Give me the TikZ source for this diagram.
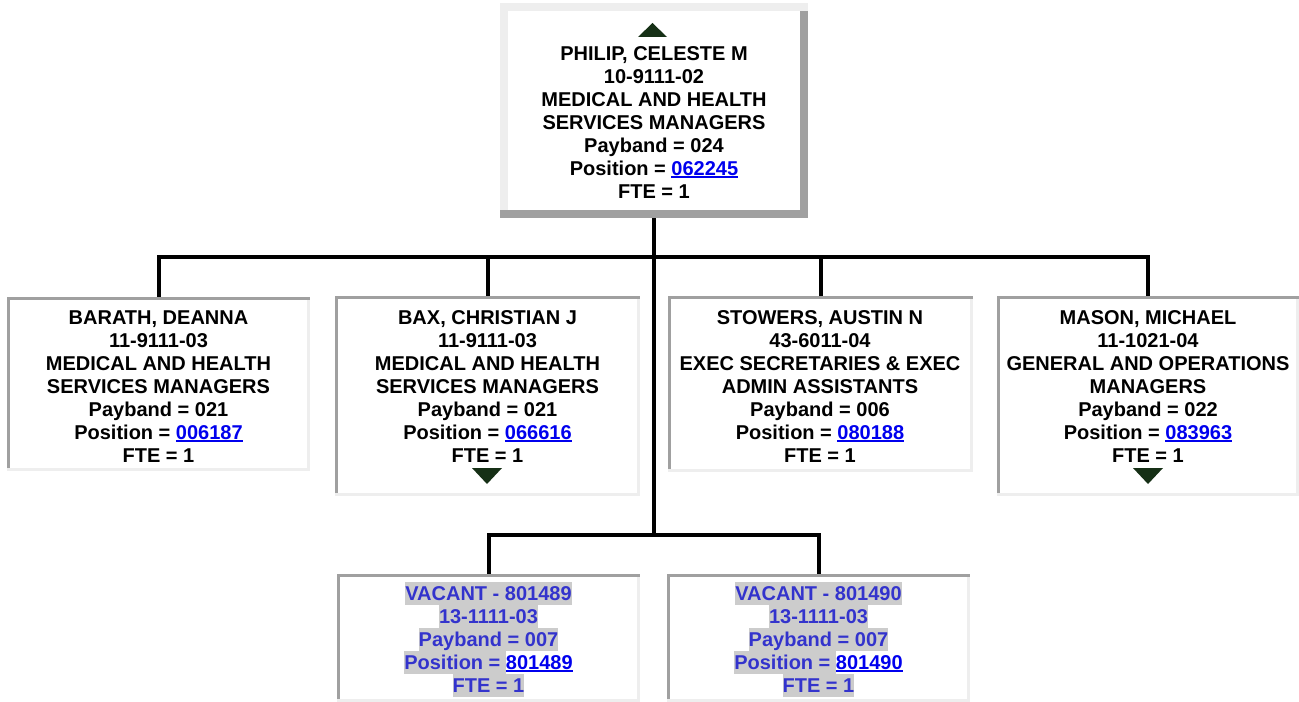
\documentclass[tikz,border=0pt]{standalone}
\usepackage{fontspec}
\setmainfont{Liberation Sans}
\usetikzlibrary{fit,calc}
\definecolor{bdark}{HTML}{A0A0A0}
\definecolor{blight}{HTML}{EEEEEE}
\definecolor{linkblue}{HTML}{0000EE}
\definecolor{vactext}{HTML}{3333CC}
\definecolor{vacbg}{HTML}{CCCCCC}
\definecolor{arrowgreen}{HTML}{163016}
\newcommand\lstrut{\rule[-3.75pt]{0pt}{17.25pt}}
\newcommand\lnk[1]{{\color{linkblue}\setbox0\hbox{#1}\rlap{\rule[-1.9pt]{\wd0}{1.4pt}}\box0}}
\newcommand\vl[1]{{\fboxsep=0pt\colorbox{vacbg}{\lstrut #1}}}
\newcommand\insetframe[1]{%
  \fill[bdark] (#1.north west) rectangle (#1.south east);
  \fill[blight] ($(#1.north east)+(-3,3)$) rectangle (#1.south east);
  \fill[blight] ($(#1.south west)+(0,-3)$) rectangle (#1.south east);
  \fill[white] ($(#1.north west)+(3,3)$) rectangle ($(#1.south east)+(-3,-3)$);
}
\begin{document}
\begin{tikzpicture}[x=0.75pt,y=-0.75pt,
  frame/.style={inner sep=0pt, draw=none},
  txt/.style={anchor=north, inner sep=0pt, align=center, font=\fontsize{15pt}{17.25pt}\selectfont\bfseries},
  vactxt/.style={txt, text=vactext},
  conn/.style={draw=black, line width=3pt, line join=miter},
  tri/.style={fill=arrowgreen}]
\useasboundingbox (0,0) rectangle (1299,702);
\fill[white] (0,0) rectangle (1299,702);

% frames
\node[frame, fit={(500,3) (808,218)}] (philip) {};
\fill[blight] (philip.north west) rectangle (philip.south east);
\fill[bdark] (800,11) rectangle (808,218);
\fill[bdark] (500,210) rectangle (808,218);
\fill[white] (508,11) rectangle (800,210);

\node[frame, fit={(7,297) (310,471)}] (barath) {};
\node[frame, fit={(335,296) (640,496)}] (bax) {};
\node[frame, fit={(668,296) (973,472)}] (stowers) {};
\node[frame, fit={(997,296) (1299,496)}] (mason) {};
\node[frame, fit={(337,574) (640,702)}] (vac1) {};
\node[frame, fit={(667,574) (970,702)}] (vac2) {};
\insetframe{barath}
\insetframe{bax}
\insetframe{stowers}
\insetframe{mason}
\insetframe{vac1}
\insetframe{vac2}

% connectors
\coordinate (bus) at (654,257);
\coordinate (vbus) at (654,535);
\draw[conn] (barath.north) -- (barath.north |- bus) -- (mason.north |- bus) -- (mason.north);
\draw[conn] (bax.north) -- (bax.north |- bus);
\draw[conn] (stowers.north) -- (stowers.north |- bus);
\draw[conn] (philip.south) -- (philip.south |- vbus);
\draw[conn] (vac1.north) -- (vac1.north |- vbus) -- (vac2.north |- vbus) -- (vac2.north);

% expand/collapse triangles
\fill[tri] (638,37) -- (667,37) -- (652.5,23) -- cycle;
\fill[tri] (472,468) -- (502,468) -- (487,484) -- cycle;
\fill[tri] (1133,468) -- (1163,468) -- (1148,484) -- cycle;

% texts
\node[txt] (philip-t) at (654,42) {\lstrut PHILIP, CELESTE M\\ \lstrut 10-9111-02\\ \lstrut MEDICAL AND HEALTH\\ \lstrut SERVICES MANAGERS\\ \lstrut Payband = 024\\ \lstrut Position = \lnk{062245}\\ \lstrut FTE = 1};
\node[txt] (barath-t) at (158.5,306) {\lstrut BARATH, DEANNA\\ \lstrut 11-9111-03\\ \lstrut MEDICAL AND HEALTH\\ \lstrut SERVICES MANAGERS\\ \lstrut Payband = 021\\ \lstrut Position = \lnk{006187}\\ \lstrut FTE = 1};
\node[txt] (bax-t) at (487.5,306) {\lstrut BAX, CHRISTIAN J\\ \lstrut 11-9111-03\\ \lstrut MEDICAL AND HEALTH\\ \lstrut SERVICES MANAGERS\\ \lstrut Payband = 021\\ \lstrut Position = \lnk{066616}\\ \lstrut FTE = 1};
\node[txt] (stowers-t) at (820,306) {\lstrut STOWERS, AUSTIN N\\ \lstrut 43-6011-04\\ \lstrut EXEC SECRETARIES \& EXEC\\ \lstrut ADMIN ASSISTANTS\\ \lstrut Payband = 006\\ \lstrut Position = \lnk{080188}\\ \lstrut FTE = 1};
\node[txt] (mason-t) at (1148,306) {\lstrut MASON, MICHAEL\\ \lstrut 11-1021-04\\ \lstrut GENERAL AND OPERATIONS\\ \lstrut MANAGERS\\ \lstrut Payband = 022\\ \lstrut Position = \lnk{083963}\\ \lstrut FTE = 1};
\node[vactxt] (vac1-t) at (488.5,582) {\vl{VACANT - 801489}\\ \vl{13-1111-03}\\ \vl{Payband = 007}\\ \vl{Position = }\lnk{801489}\\ \vl{FTE = 1}};
\node[vactxt] (vac2-t) at (818.5,582) {\vl{VACANT - 801490}\\ \vl{13-1111-03}\\ \vl{Payband = 007}\\ \vl{Position = }\lnk{801490}\\ \vl{FTE = 1}};
\end{tikzpicture}
\end{document}
